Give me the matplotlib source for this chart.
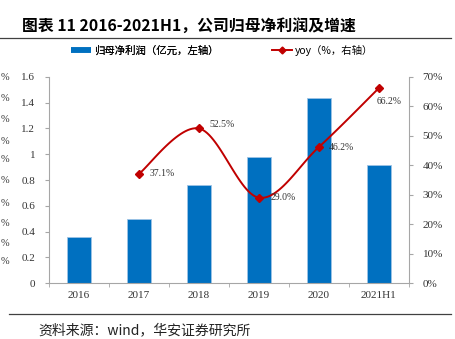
import numpy as np
import matplotlib.pyplot as plt
from matplotlib.lines import Line2D

plt.rcParams['font.family'] = ['Liberation Serif', 'Noto Sans CJK SC']

years = ['2016', '2017', '2018', '2019', '2020', '2021H1']
profit = [0.36, 0.50, 0.76, 0.98, 1.44, 0.92]   # 亿元
yoy = [37.1, 52.5, 29.0, 46.2, 66.2]             # %, 2017 onwards
left_ticks = [0, 0.2, 0.4, 0.6, 0.8, 1, 1.2, 1.4, 1.6]
left_labels = ['0', '0.2', '0.4', '0.6', '0.8', '1', '1.2', '1.4', '1.6']
right_ticks = [0, 10, 20, 30, 40, 50, 60, 70]

blue = '#0070C0'
red = '#C00000'
grey = '#A6A6A6'
cjk = ['Noto Sans CJK SC', 'DejaVu Sans']


def smooth(xs, ys, n=30):
    # Catmull-Rom style smoothing, like the smoothed lines in office charts
    xs = np.asarray(xs, float)
    ys = np.asarray(ys, float)
    px = np.concatenate([[xs[0]], xs, [xs[-1]]])
    py = np.concatenate([[ys[0]], ys, [ys[-1]]])
    out_x, out_y = [], []
    t = np.linspace(0, 1, n)
    for i in range(1, len(px) - 2):
        p0 = np.array([px[i], py[i]])
        p3 = np.array([px[i + 1], py[i + 1]])
        c1 = p0 + (np.array([px[i + 1], py[i + 1]]) - np.array([px[i - 1], py[i - 1]])) / 6
        c2 = p3 - (np.array([px[i + 2], py[i + 2]]) - np.array([px[i], py[i]])) / 6
        b = ((1 - t) ** 3)[:, None] * p0 + (3 * (1 - t) ** 2 * t)[:, None] * c1 \
            + (3 * (1 - t) * t ** 2)[:, None] * c2 + (t ** 3)[:, None] * p3
        out_x.extend(b[:, 0])
        out_y.extend(b[:, 1])
    return np.array(out_x), np.array(out_y)


fig = plt.figure(figsize=(4.56, 3.39), dpi=100)
ax = fig.add_axes([0.1075, 0.165, 0.789, 0.608])
x = np.arange(len(years))
ax.bar(x, profit, width=0.39, color=blue, edgecolor='#9DC3E6', linewidth=0.6, zorder=2)
ax.set_xlim(-0.5, len(years) - 0.5)
ax.set_ylim(0, 1.6)
ax.set_yticks(left_ticks)
ax.set_yticklabels(left_labels)
ax.set_xticks(x)
ax.set_xticklabels(years)
ax.set_xticks(np.arange(len(years) + 1) - 0.5, minor=True)
ax.tick_params(axis='x', which='major', length=0, pad=6, labelsize=8, colors='#333333')
ax.tick_params(axis='x', which='minor', length=3, color=grey, direction='out')
ax.tick_params(axis='y', length=3, color=grey, labelsize=8, labelcolor='#333333', pad=7)
for s in ['top', 'right']:
    ax.spines[s].set_visible(False)
for s in ['left', 'bottom']:
    ax.spines[s].set_color(grey)
    ax.spines[s].set_linewidth(0.8)

ax2 = ax.twinx()
xl = x[1:]
sx, sy = smooth(xl, yoy)
ax2.plot(sx, sy, color=red, lw=1.4, zorder=3)
ax2.plot(xl, yoy, ls='none', marker='D', ms=4, color=red, zorder=4)
ax2.set_ylim(0, 70)
ax2.set_yticks(right_ticks)
ax2.set_yticklabels([f'{v}%' for v in right_ticks])
ax2.tick_params(axis='y', length=3, color=grey, labelsize=8, labelcolor='#333333', pad=7)
for s in ['top', 'left', 'bottom']:
    ax2.spines[s].set_visible(False)
ax2.spines['right'].set_color(grey)
ax2.spines['right'].set_linewidth(0.8)

offsets = [(0.17, 0), (0.17, 1.5), (0.2, 0), (0.17, 0), (-0.03, -4.5)]
for xi, v, (dx, dy) in zip(xl, yoy, offsets):
    ax2.text(xi + dx, v + dy, f'{v:.1f}%', fontsize=7, color='#333333', va='center', ha='left')

# two legend entries placed separately above the plot
leg_kw = dict(loc='center left', frameon=False, borderpad=0, borderaxespad=0,
              handlelength=1.9, handletextpad=0.3, prop={'family': cjk, 'size': 7.5})
leg1 = fig.legend([Line2D([0], [0], color=blue, lw=4, solid_capstyle='butt')],
                  ['归母净利润（亿元，左轴）'], bbox_to_anchor=(0.156, 0.852), **leg_kw)
fig.add_artist(leg1)
fig.legend([Line2D([0], [0], color=red, lw=1.4, marker='D', ms=3.5)],
           ['yoy（%，右轴）'], bbox_to_anchor=(0.596, 0.852), **leg_kw)

fig.text(0.048, 0.923, '图表 11 2016-2021H1，公司归母净利润及增速', family=cjk,
         fontsize=11.4, fontweight='bold', va='center', ha='left')
fig.add_artist(Line2D([0, 0.99], [0.887, 0.887], color='#404040', lw=0.9))
fig.add_artist(Line2D([0.02, 0.99], [0.073, 0.073], color='#404040', lw=0.9))
fig.text(0.083, 0.027, '资料来源：wind，华安证券研究所', family=cjk,
         fontsize=10, va='center', ha='left', color='#222222')

# tick-label ends of the neighbouring chart at the page edge
edge_rows = [77, 98, 120, 142, 160, 180, 203, 223, 243, 262]
for yp in edge_rows:
    fig.text(0.5 / 456, 1 - yp / 339, '%', fontsize=7.5,
             ha='left', va='center', color='#333333')

fig.savefig('out.png', dpi=100)
